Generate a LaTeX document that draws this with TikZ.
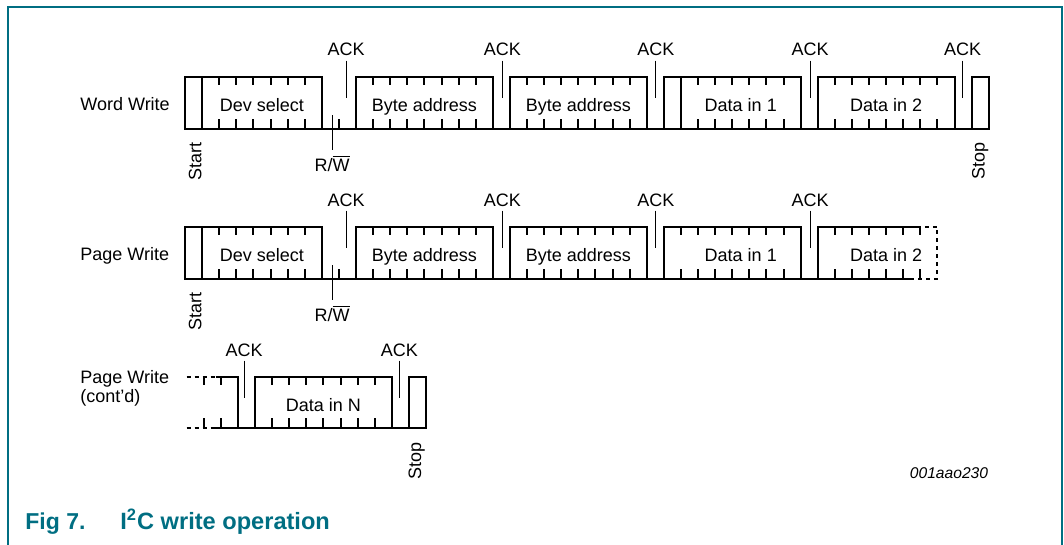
\documentclass[tikz,border=0pt]{standalone}
\usepackage{fontspec}
\setmainfont{Liberation Sans}
\definecolor{nxpteal}{RGB}{0,110,130}

\begin{document}
\begin{tikzpicture}[x=0.5pt,y=-0.5pt,
  sig/.style={line width=1pt},
  ackline/.style={line width=0.5pt},
  lbl/.style={inner sep=0pt,font=\fontsize{9}{9.5}\selectfont},
  cut/.style={sig,dash pattern=on 2pt off 2pt}]
\useasboundingbox (0,0) rectangle (1064,545);

% frame
\draw[nxpteal,line width=1pt] (8,545) -- (8,7) -- (1062,7) -- (1062,545);

\node[lbl,anchor=base west] (word) at (80,110.5) {Word Write};
\node[lbl,anchor=base west] (page) at (80,260.5) {Page Write};
\node[lbl,anchor=base west,align=left] (cont) at (80,402) {Page Write\\(cont'd)};

% Word Write and Page Write, one bit = 17.1px
\begin{scope}[x=8.55pt,xshift=92.5pt]
\foreach \t/\rw in {77/w,227/p} {
  \foreach \s in {0,10,19,28} {
    \draw[sig] (\s,\t) rectangle (\s+8,\t+52);
    \foreach \k in {1,...,7}
      \draw[sig] (\s+\k,\t) -- (\s+\k,\t+8) (\s+\k,\t+52) -- (\s+\k,\t+42);
  }
  \draw[sig] (1,\t) -- (1,\t+52);
  \draw[sig] (8,\t+52) -- (37,\t+52) (9,\t+52) -- (9,\t+42);
  \node[lbl,anchor=base] (\rw dev) at (4.5,\t+34.5) {Dev select};
  \node[lbl,anchor=base] (\rw byte1) at (14,\t+34.5) {Byte address};
  \node[lbl,anchor=base] (\rw byte2) at (23,\t+34.5) {Byte address};
  \node[lbl,anchor=base] (\rw data1) at (32.5,\t+34.5) {Data in 1};
  \node[lbl,anchor=base] (\rw data2) at (41,\t+34.5) {Data in 2};
  \foreach \a [count=\n] in {9.42,18.56,27.54,36.55} {
    \node[lbl,anchor=base] (\rw ack\n) at (\a,\t-21) {ACK};
    \draw[ackline] ([yshift=-2pt]\rw ack\n.south) -- ++(0,37);
  }
  \node[lbl,rotate=90,anchor=east] (\rw start) at (0.6,\t+64.7) {Start};
  \node[lbl,anchor=base] (\rw rw) at (8.6,\t+94.7) {R/$\overline{\hbox{W}}$};
  \draw[ackline] ([yshift=2.5pt]\rw rw.north) -- ++(0,-35);
}

% Word Write tail
\draw[sig] (29,77) -- (29,129);
\draw[sig] (37,77) rectangle (45,129);
\foreach \k in {38,...,44} \draw[sig] (\k,77) -- (\k,85) (\k,129) -- (\k,119);
\draw[sig] (36,129) -- (47,129);
\draw[sig] (46,77) rectangle (47,129);
\node[lbl,anchor=base] (wack5) at (45.48,56) {ACK};
\draw[ackline] ([yshift=-2pt]wack5.south) -- ++(0,37);
\node[lbl,rotate=90,anchor=east] (wstop) at (46.5,141.7) {Stop};

% Page Write tail
\draw[sig] (42.8,227) -- (37,227) -- (37,279) -- (42.6,279);
\foreach \k in {38,...,43} \draw[sig] (\k,227) -- (\k,235) (\k,279) -- (\k,269);
\draw[cut] (42.8,227) -- (44,227) -- (44,279) -- (42.6,279);
\end{scope}

% Page Write (cont'd)
\begin{scope}[x=8.55pt,xshift=93.3pt]
\draw[cut] (0,377) -- (1.7,377) (0,428) -- (1.5,428);
\draw[sig] (1.7,377) -- (3,377) -- (3,428);
\draw[sig] (1.5,428) -- (14,428);
\foreach \k in {1,2} \draw[sig] (\k,377) -- (\k,385) (\k,428) -- (\k,418);
\draw[sig] (4,377) rectangle (12,428);
\foreach \k in {5,...,11} \draw[sig] (\k,377) -- (\k,385) (\k,428) -- (\k,418);
\draw[sig] (13,377) rectangle (14,428);
\node[lbl,anchor=base] (cdata) at (8,411.5) {Data in N};
\foreach \a [count=\n] in {3.36,12.44} {
  \node[lbl,anchor=base] (cack\n) at (\a,356) {ACK};
  \draw[ackline] ([yshift=-2pt]cack\n.south) -- ++(0,37);
}
\node[lbl,rotate=90,anchor=east] (cstop) at (13.45,441.7) {Stop};
\end{scope}

\node[inner sep=0pt,anchor=base,font=\fontsize{7.8}{9}\selectfont\itshape] (code) at (949,478) {001aao230};

\node[inner sep=0pt,anchor=base west,text=nxpteal,font=\bfseries\fontsize{11.5}{13}\selectfont] (fig) at (25,529) {Fig 7.};
\node[inner sep=0pt,anchor=base west,text=nxpteal,font=\bfseries\fontsize{11.8}{13}\selectfont] (title) at (120,529) {I\textsuperscript{2}C write operation};
\end{tikzpicture}
\end{document}
